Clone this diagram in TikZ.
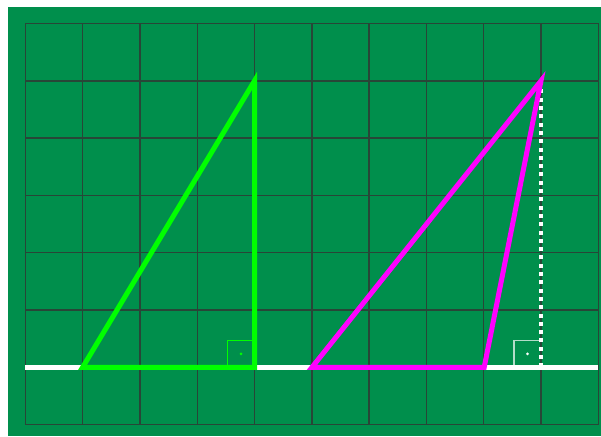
\documentclass[tikz,border=0pt]{standalone}
\usetikzlibrary{calc}
\definecolor{board}{RGB}{0,143,76}
\definecolor{gridc}{RGB}{40,70,55}
\definecolor{lime}{RGB}{0,255,0}
\definecolor{mag}{RGB}{255,0,255}
\tikzset{
  gridline/.style={draw=gridc,line width=1.4pt},
  tri/.style={line width=5pt,line join=miter},
  marker/.style={line width=1.3pt},
}
\begin{document}
\begin{tikzpicture}[x=1pt,y=-1pt]
\useasboundingbox (0,0) rectangle (601,436);
\fill[board] (8,7) rectangle (601,436);
% grid
\foreach \i in {0,...,10} {\draw[gridline] ({25.3+57.3*\i},23.5) -- ({25.3+57.3*\i},424.6);}
\foreach \j in {0,...,7} {\draw[gridline] (25.3,{23.5+57.3*\j}) -- (598.3,{23.5+57.3*\j});}
% named points
\coordinate (L) at (25.3,367.3);
\coordinate (R) at (598.3,367.3);
\coordinate (A) at (82.6,367.3);
\coordinate (B) at (254.5,80.8);
\coordinate (C) at (254.5,367.3);
\coordinate (D) at (312,367.3);
\coordinate (E) at (541,80.8);
\coordinate (F) at (484.2,367.3);
\coordinate (H) at (541,367.3);
% base line
\draw[white,line width=5pt] (L) -- (R);
% green triangle
\draw[lime,tri] (A) -- (B) -- (C) -- cycle;
\draw[lime,marker] ($(C)+(-27,0)$) -- ($(C)+(-27,-27)$) -- ($(C)+(0,-27)$);
\fill[lime] ($(C)+(-13.5,-13.5)$) circle (1.5);
% magenta triangle
\draw[white,line width=4pt,dash pattern=on 4pt off 4.3pt] (H) -- (E);
\draw[mag,tri] (D) -- (E) -- (F) -- cycle;
\draw[white,opacity=0.7,marker] ($(H)+(-27,0)$) -- ($(H)+(-27,-27)$) -- ($(H)+(0,-27)$);
\fill[white] ($(H)+(-13.5,-13.5)$) circle (1.5);
\end{tikzpicture}
\end{document}
